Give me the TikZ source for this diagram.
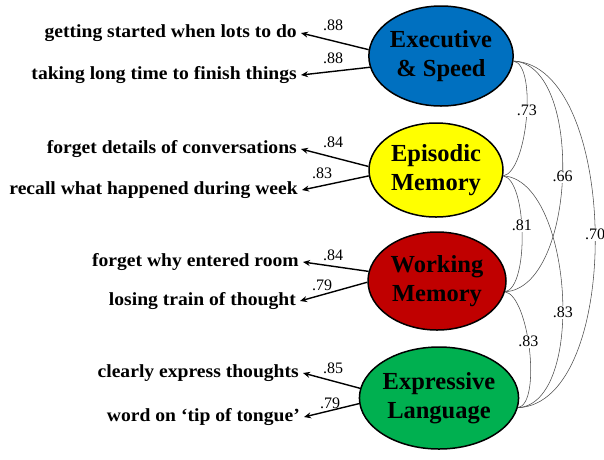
\documentclass[tikz,border=0pt]{standalone}
\usepackage{fontspec}
\setmainfont{Liberation Serif}
\newfontfamily\labfont[FakeStretch=1.06]{Liberation Serif}
\usetikzlibrary{shapes.geometric,arrows.meta}
\definecolor{cblue}{RGB}{0,112,192}
\definecolor{cyellow}{RGB}{255,255,0}
\definecolor{cred}{RGB}{192,0,0}
\definecolor{cgreen}{RGB}{0,176,80}
\begin{document}
\begin{tikzpicture}[x=1pt,y=-1pt,
 factor/.style={ellipse, draw=black, line width=1.5pt, inner sep=0pt, align=center,
   font=\fontsize{24.5}{29}\selectfont\bfseries},
 item/.style={anchor=east, inner xsep=4pt, inner ysep=0pt,
   font=\labfont\fontsize{18.5}{21}\selectfont\bfseries},
 load/.style={line width=1.4pt, -{Stealth[length=7pt,width=6pt]}},
 corr/.style={line width=0.55pt, draw=black!70},
 coef/.style={font=\fontsize{16}{18}\selectfont, inner sep=1pt},
 rlab/.style={coef, fill=white, inner sep=1pt}]
\useasboundingbox (0,0) rectangle (604,459);

% factors
\node[factor, fill=cblue, minimum width=132pt, minimum height=100pt] (exec) at (441,56) {Executive\\\& Speed};
\node[factor, fill=cyellow, minimum width=134pt, minimum height=94pt] (epis) at (436,170) {Episodic\\Memory};
\node[factor, fill=cred, minimum width=138pt, minimum height=98pt] (work) at (437,281) {Working\\Memory};
\node[factor, fill=cgreen, minimum width=138pt, minimum height=102pt] (expr) at (439,398) {Expressive\\Language};

% items
\node[item] (i1) at (301,33) {getting started when lots to do};
\node[item] (i2) at (301,75) {taking long time to finish things};
\node[item] (i3) at (301,149) {forget details of conversations};
\node[item] (i4) at (302,190) {recall what happened during week};
\node[item] (i5) at (303,262) {forget why entered room};
\node[item] (i6) at (300,301) {losing train of thought};
\node[item] (i7) at (303,373) {clearly express thoughts};
\node[item] (i8) at (304,417) {word on ‘tip of tongue’};

% loadings
\draw[load] (exec.175) -- (i1.east);
\draw[load] (exec.189) -- (i2.east);
\draw[load] (epis.177) -- (i3.east);
\draw[load] (epis.185) -- (i4.east);
\draw[load] (work.172) -- (i5.east);
\draw[load] (work.181) -- (i6.east);
\draw[load] (expr.173) -- (i7.east);
\draw[load] (expr.184) -- (i8.east);

\node[coef] (l1) at (333,25) {.88};
\node[coef] (l2) at (333,58) {.88};
\node[coef] (l3) at (333,142) {.84};
\node[coef] (l4) at (322,173) {.83};
\node[coef] (l5) at (333,255) {.84};
\node[coef] (l6) at (322,285) {.79};
\node[coef] (l7) at (333,368) {.85};
\node[coef] (l8) at (330,403) {.79};

% correlations
\draw[corr] (exec.-4) .. controls +(24,4) and +(24,-4) .. node[rlab,pos=.45] (c1) {.73} (epis.-5);
\draw[corr] (exec.-4) .. controls +(71,4) and +(71,-4) .. node[rlab,pos=.5] (c2) {.66} (work.-9);
\draw[corr] (exec.-4) .. controls +(106,4) and +(106,-4) .. node[rlab,pos=.5] (c3) {.70} (expr.-7);
\draw[corr] (epis.-5) .. controls +(24,4) and +(24,-4) .. node[rlab,pos=.45] (c4) {.81} (work.-9);
\draw[corr] (epis.-5) .. controls +(69,4) and +(69,-4) .. node[rlab,pos=.56] (c5) {.83} (expr.-7);
\draw[corr] (work.-9) .. controls +(24,4) and +(24,-4) .. node[rlab,pos=.45] (c6) {.83} (expr.-7);
\end{tikzpicture}
\end{document}
